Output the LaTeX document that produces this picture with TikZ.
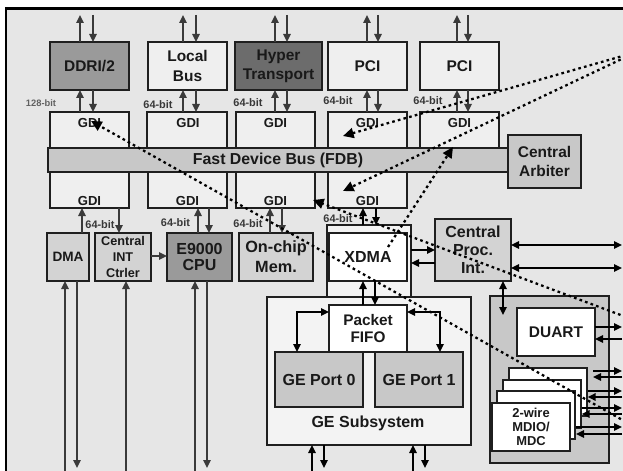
\documentclass[tikz,border=0pt]{standalone}
\usepackage{fontspec}
\setmainfont{Liberation Sans}
\usetikzlibrary{arrows.meta}
\definecolor{bgc}{HTML}{E6E6E6}
\definecolor{ltc}{HTML}{EFEFEF}
\definecolor{pale}{HTML}{F3F3F3}
\definecolor{mdc}{HTML}{C8C8C8}
\definecolor{mlc}{HTML}{D3D3D3}
\definecolor{dka}{HTML}{9A9A9A}
\definecolor{dkb}{HTML}{6C6C6C}
\definecolor{arc}{HTML}{3A3A3A}
\newcommand\bx[7]{\node[#6,minimum width={(#4-#2)*0.75pt},minimum height={(#5-#3)*0.75pt}] (#1) at ({(#2+#4)/2},{(#3+#5)/2}) {#7};}
\begin{document}
\begin{tikzpicture}[x=0.75pt,y=-0.75pt,>={Triangle[length=6pt,width=5.5pt]},
 bxs/.style={draw=black!88,line width=1.5pt,inner sep=0pt,outer sep=0pt,align=center,text=black!90,font=\bfseries\fontsize{11.6}{14.3}\selectfont},
 gdif/.style={inner sep=0pt,text=black!90,font=\bfseries\fontsize{9.8}{10}\selectfont},
 bitf/.style={inner sep=0pt,text=black!78,font=\bfseries\fontsize{8.2}{8}\selectfont},
 ga/.style={draw=arc,line width=1.5pt},
 gk/.style={draw=black,line width=1.5pt},
 dots/.style={draw=black,line width=1.7pt,dash pattern=on 2pt off 2.4pt,-{Triangle[length=8pt,width=7.5pt]}}]
\useasboundingbox (0,0) rectangle (623,470);
\clip (0,0) rectangle (623,470);
\fill[white] (0,0) rectangle (623,470);
\draw[line width=1.7pt,fill=bgc] (6,8.5) rectangle (700,520);
% top boxes
\bx{ddr}{50}{42}{129}{90}{bxs,fill=dka}{DDRI/2}
\bx{lbus}{148}{42}{227}{90}{bxs,fill=ltc}{Local\\Bus}
\bx{ht}{235}{42}{322}{90}{bxs,fill=dkb}{Hyper\\Transport}
\bx{pcia}{328}{42}{407}{90}{bxs,fill=ltc}{PCI}
\bx{pcib}{420}{42}{499}{90}{bxs,fill=ltc}{PCI}
% GDIs
\bx{g1t}{50}{112}{129}{150}{bxs,fill=ltc}{}
\bx{g2t}{147}{112}{227}{150}{bxs,fill=ltc}{}
\bx{g3t}{236}{112}{315}{150}{bxs,fill=ltc}{}
\bx{g4t}{328}{112}{407}{150}{bxs,fill=ltc}{}
\bx{g5t}{420}{112}{499}{150}{bxs,fill=ltc}{}
\bx{g1b}{50}{170}{129}{208}{bxs,fill=ltc}{}
\bx{g2b}{148}{170}{227}{208}{bxs,fill=ltc}{}
\bx{g3b}{236}{170}{315}{208}{bxs,fill=ltc}{}
\bx{g4b}{328}{170}{407}{208}{bxs,fill=ltc}{}
\node[gdif] (t1t) at (89.5,123) {GDI};
\node[gdif] (t2t) at (188,123) {GDI};
\node[gdif] (t3t) at (275.5,123) {GDI};
\node[gdif] (t4t) at (367.5,123) {GDI};
\node[gdif] (t5t) at (459.5,123) {GDI};
\node[gdif] (t1b) at (89.5,201) {GDI};
\node[gdif] (t2b) at (187.5,201) {GDI};
\node[gdif] (t3b) at (275.5,201) {GDI};
\node[gdif] (t4b) at (367.5,201) {GDI};
% FDB and arbiter
\bx{fdb}{48}{148}{508}{172}{bxs,fill=mdc,font=\bfseries\fontsize{11.9}{14}\selectfont}{Fast Device Bus (FDB)}
\bx{arb}{508}{135}{581}{188}{bxs,fill=mdc}{Central\\Arbiter}
% bit labels
\node[bitf,text=black!62,font=\bfseries\fontsize{7}{7}\selectfont] (b0) at (41,103) {128-bit};
\node[bitf] (b1) at (158,105) {64-bit};
\node[bitf] (b2) at (248,103) {64-bit};
\node[bitf] (b3) at (338,101) {64-bit};
\node[bitf] (b4) at (428,101) {64-bit};
\node[bitf] (b5) at (100,225) {64-bit};
\node[bitf] (b6) at (175.5,223) {64-bit};
\node[bitf] (b7) at (248,224) {64-bit};
\node[bitf] (b8) at (338,219) {64-bit};
% lower boxes
\bx{dma}{47}{233}{89}{281}{bxs,fill=mlc,font=\bfseries\fontsize{10.2}{12}\selectfont}{DMA}
\bx{cint}{95}{233}{151}{281}{bxs,fill=mlc,font=\bfseries\fontsize{9.5}{11.8}\selectfont}{Central\\INT\\Ctrler}
\bx{cpu}{167}{233}{232}{281}{bxs,fill=dka,font=\bfseries\fontsize{12}{12.3}\selectfont}{E9000\\CPU}
\bx{mem}{239}{233}{313}{281}{bxs,fill=mlc,font=\bfseries\fontsize{12.2}{15}\selectfont}{On-chip\\Mem.}
\bx{xdo}{327}{225}{411}{297}{bxs,fill=pale}{}
\bx{xdma}{329}{233}{407}{281}{bxs,fill=white,line width=2pt,font=\bfseries\fontsize{12}{14}\selectfont}{XDMA}
\bx{cpi}{435}{219}{511}{281}{bxs,fill=mlc,font=\bfseries\fontsize{12}{13.6}\selectfont}{Central\\Proc.\\Int.}
% GE subsystem
\bx{ges}{267}{297}{471}{445}{bxs,fill=pale}{}
\node[inner sep=0pt,text=black!90,font=\bfseries\fontsize{12}{14}\selectfont] (gest) at (368,423) {GE Subsystem};
\bx{fifo}{329}{305}{407}{352}{bxs,fill=white,font=\bfseries\fontsize{11.5}{13.3}\selectfont}{Packet\\FIFO}
\bx{gp0}{275}{352}{363}{407}{bxs,fill=mdc,font=\bfseries\fontsize{12}{14}\selectfont}{GE Port 0}
\bx{gp1}{375}{352}{463}{407}{bxs,fill=mdc,font=\bfseries\fontsize{12}{14}\selectfont}{GE Port 1}
% right box
\bx{rb}{490}{296}{609}{463}{bxs,fill=mdc}{}
\bx{duart}{517}{308}{595}{356}{bxs,fill=white}{DUART}
\bx{s4}{509}{368}{587}{416}{bxs,fill=white}{}
\bx{s3}{503}{380}{581}{428}{bxs,fill=white}{}
\bx{s2}{497}{391}{575}{439}{bxs,fill=white}{}
\bx{s1}{492}{403}{570}{451}{bxs,fill=white,font=\bfseries\fontsize{9.7}{10.5}\selectfont}{2-wire\\MDIO/\\MDC}
% top arrows
\draw[ga,->] (80,0 |- ddr.north) -- (80,15);
\draw[ga,->] (93,15) -- (93,0 |- ddr.north);
\draw[ga,->] (183,0 |- lbus.north) -- (183,15);
\draw[ga,->] (196,15) -- (196,0 |- lbus.north);
\draw[ga,->] (275,0 |- ht.north) -- (275,15);
\draw[ga,->] (287,15) -- (287,0 |- ht.north);
\draw[ga,->] (367,0 |- pcia.north) -- (367,15);
\draw[ga,->] (378,15) -- (378,0 |- pcia.north);
\draw[ga,->] (457,0 |- pcib.north) -- (457,15);
\draw[ga,->] (468,15) -- (468,0 |- pcib.north);
% box - GDI arrows
\draw[ga,->] (80,0 |- g1t.north) -- (80,0 |- ddr.south);
\draw[ga,->] (93,0 |- ddr.south) -- (93,0 |- g1t.north);
\draw[ga,->] (183,0 |- g2t.north) -- (183,0 |- lbus.south);
\draw[ga,->] (196,0 |- lbus.south) -- (196,0 |- g2t.north);
\draw[ga,->] (275,0 |- g3t.north) -- (275,0 |- ht.south);
\draw[ga,->] (287,0 |- ht.south) -- (287,0 |- g3t.north);
\draw[ga,->] (367,0 |- g4t.north) -- (367,0 |- pcia.south);
\draw[ga,->] (378,0 |- pcia.south) -- (378,0 |- g4t.north);
\draw[ga,->] (457,0 |- g5t.north) -- (457,0 |- pcib.south);
\draw[ga,->] (468,0 |- pcib.south) -- (468,0 |- g5t.north);
% lower GDI arrows
\draw[ga,->] (82,0 |- dma.north) -- (82,0 |- g1b.south);
\draw[ga,->] (119,0 |- g1b.south) -- (119,0 |- cint.north);
\draw[ga,->] (198,0 |- cpu.north) -- (198,0 |- g2b.south);
\draw[ga,->] (209,0 |- g2b.south) -- (209,0 |- cpu.north);
\draw[ga,->] (270,0 |- mem.north) -- (270,0 |- g3b.south);
\draw[ga,->] (282,0 |- g3b.south) -- (282,0 |- mem.north);
\draw[gk,->] (363,0 |- xdo.north) -- (363,0 |- g4b.south);
\draw[gk,->] (376,0 |- g4b.south) -- (376,0 |- xdo.north);
\draw[ga,->] (cint.east |- 0,256) -- (cpu.west |- 0,256);
% bottom arrows
\draw[ga,->] (65,476) -- (65,0 |- dma.south);
\draw[ga,->] (77,0 |- dma.south) -- (77,468);
\draw[ga,->] (126,476) -- (126,0 |- cint.south);
\draw[ga,->] (195,476) -- (195,0 |- cpu.south);
\draw[ga,->] (207,0 |- cpu.south) -- (207,468);
% XDMA / CPI
\draw[gk,->] (xdo.east |- 0,250) -- (cpi.west |- 0,250);
\draw[gk,->] (cpi.west |- 0,263) -- (xdo.east |- 0,263);
\draw[gk,<->] (cpi.east |- 0,245) -- (622,245);
\draw[gk,<->] (cpi.east |- 0,268) -- (622,268);
\draw[gk,<->] (503,0 |- cpi.south) -- (503,315);
\draw[gk,->] (363,0 |- fifo.north) -- (363,0 |- xdma.south);
\draw[gk,->] (375,0 |- xdma.south) -- (375,0 |- fifo.north);
\draw[gk,<->] (fifo.west |- 0,312) -- (297,312) -- (297,0 |- gp0.north);
\draw[gk,<->] (fifo.east |- 0,312) -- (440,312) -- (440,0 |- gp1.north);
% GE bottom
\draw[gk,->] (312,476) -- (312,0 |- ges.south);
\draw[gk,->] (324,0 |- ges.south) -- (324,468);
\draw[gk,->] (413,476) -- (413,0 |- ges.south);
\draw[gk,->] (425,0 |- ges.south) -- (425,468);
% right side arrows
\draw[gk,->] (duart.east |- 0,327) -- (622,327);
\draw[gk,->] (622,339) -- (duart.east |- 0,339);
\draw[gk,->,shorten <=4.5pt] (s4.east |- 0,371) -- (622,371);
\draw[gk,->,shorten >=4.5pt] (622,377) -- (s4.east |- 0,377);
\draw[gk,->,shorten <=5pt] (s3.east |- 0,391) -- (622,391);
\draw[gk,->,shorten >=5pt] (622,397) -- (s3.east |- 0,397);
\draw[gk,->,shorten <=5pt] (s2.east |- 0,408) -- (622,408);
\draw[gk,->,shorten >=5pt] (622,414) -- (s2.east |- 0,414);
\draw[gk,->,shorten <=4.5pt] (s1.east |- 0,427) -- (622,427);
\draw[gk,->,shorten >=4.5pt] (622,434) -- (s1.east |- 0,434);
% dotted lines
\coordinate (dA) at (626,55);
\coordinate (dB) at (626,57);
\coordinate (dC) at (388,247);
\coordinate (dD) at (626,422);
\coordinate (dE) at (626,317);
\draw[dots] (dA) -- (343,136);
\draw[dots] (dB) -- (343,191);
\draw[dots] (dC) -- (453,147);
\draw[dots] (dD) -- (91,121);
\draw[dots] (dE) -- (313,200);
\end{tikzpicture}
\end{document}
